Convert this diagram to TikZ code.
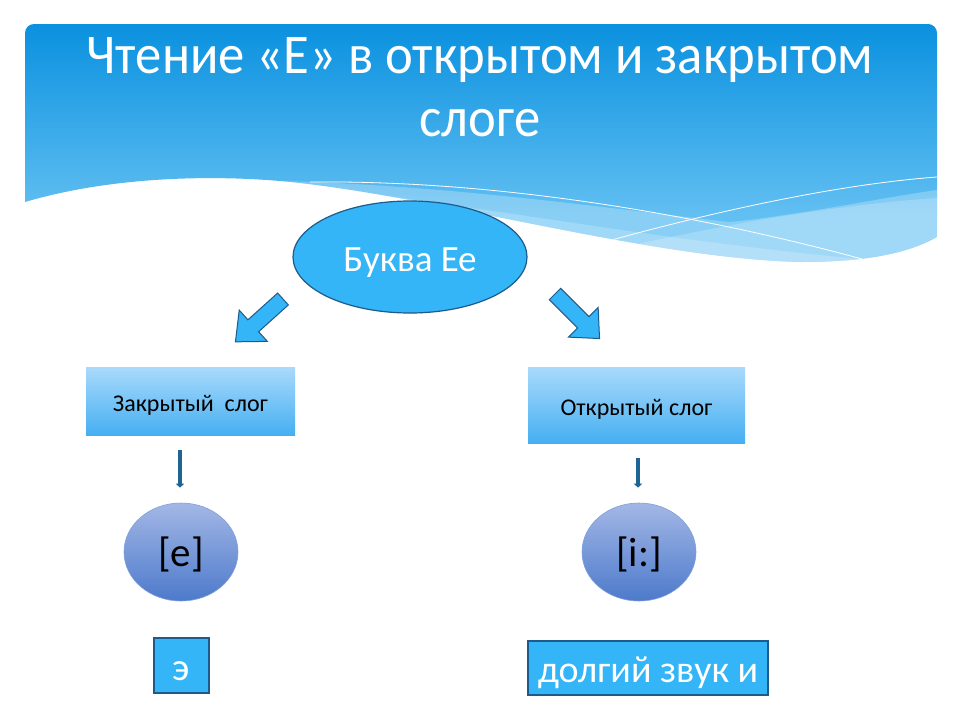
\documentclass[tikz,border=0pt]{standalone}
\usepackage{fontspec}
\setmainfont{Carlito}
\usetikzlibrary{arrows.meta,shapes.geometric}
\definecolor{hdrTop}{HTML}{0A91DF}
\definecolor{hdrBot}{HTML}{62BFF2}
\definecolor{ellFill}{HTML}{33B5F7}
\definecolor{darkEdge}{HTML}{1E5A8A}
\definecolor{rectTop}{HTML}{A9DAFB}
\definecolor{rectBot}{HTML}{46AFF2}
\definecolor{circTop}{HTML}{A3B7E6}
\definecolor{circBot}{HTML}{4D7ACB}
\definecolor{circEdge}{HTML}{7F9FD8}
\definecolor{smallArr}{HTML}{1F6594}
\newcommand{\lowtext}[2]{\smash{\raisebox{-#1}{#2}}}
\tikzset{
  titletext/.style={text=white, font=\fontsize{56}{63}\selectfont, anchor=base, inner sep=0pt},
  blockarrow/.style={fill=ellFill, draw=darkEdge, line width=1pt, line join=miter},
  syllbox/.style={rectangle, minimum height=68pt, top color=rectTop, bottom color=rectBot, draw=none, font=\fontsize{24}{28}\selectfont, text=black, inner sep=0pt},
  soundcirc/.style={ellipse, minimum width=114pt, minimum height=98pt, top color=circTop, bottom color=circBot, draw=circEdge, line width=0.6pt, font=\fontsize{41}{46}\selectfont, text=black, inner sep=0pt},
  valbox/.style={rectangle, fill=ellFill, draw=darkEdge, line width=1.2pt, text=white, minimum height=55pt, inner sep=0pt},
  downarrow/.style={draw=smallArr, line width=3.5pt, -{Triangle[width=8pt,length=4pt]}, shorten <=15pt, shorten >=15pt}
}
\begin{document}
\begin{tikzpicture}[x=1pt,y=-1pt]
\useasboundingbox (0,0) rectangle (960,720);
\fill[white] (0,0) rectangle (960,720);
% header
\begin{scope}
  \clip[rounded corners=9pt] (25,24) rectangle (937,300);
  \clip (25,202) -- (25,24) -- (937,24) -- (937,237)
     .. controls (905,255) and (860,262) .. (800,262)
     .. controls (650,258) and (450,200) .. (300,183)
     .. controls (230,175) and (120,174) .. (25,202) -- cycle;
  \shade[top color=hdrTop, bottom color=hdrBot] (25,24) rectangle (937,215);
  \fill[hdrBot] (25,214) rectangle (937,300);
  % lighter band overlays
  \fill[white, opacity=0.25] (280,181) .. controls (450,185) and (620,210) .. (730,222)
     .. controls (800,215) and (880,198) .. (937,190) -- (937,300) -- (280,300) -- cycle;
  \fill[white, opacity=0.2] (300,186) .. controls (450,200) and (650,240) .. (862,259) -- (862,300) -- (300,300) -- cycle;
  \fill[white, opacity=0.2] (560,262) .. controls (700,228) and (830,205) .. (937,198) -- (937,300) -- (560,300) -- cycle;
  \draw[white, line width=0.8pt] (310,182) .. controls (500,180) and (700,215) .. (862,259);
  \draw[white, line width=0.8pt] (590,246) .. controls (700,215) and (830,185) .. (937,177);
\end{scope}
% title
\node[titletext] (title1) at (480,73) {\scalebox{0.94}[1]{Чтение «Е» в открытом и закрытом}};
\node[titletext] (title2) at (480,136) {\scalebox{0.94}[1]{слоге}};
% top ellipse
\node[ellipse, fill=ellFill, draw=darkEdge, line width=1.2pt, minimum width=234pt, minimum height=112pt,
  text=white, font=\fontsize{37}{42}\selectfont, inner sep=0pt] (letter) at (410,257) {\lowtext{14pt}{Буква Ее}};
% block arrows
\begin{scope}[shift={(283,299)}, rotate=222]
  \path[blockarrow] (0,-8) -- (40,-8) -- (40,-21) -- (64,0) -- (40,21) -- (40,8) -- (0,8) -- cycle;
\end{scope}
\begin{scope}[shift={(555,294)}, rotate=-45]
  \path[blockarrow] (0,-8) -- (40,-8) -- (40,-21) -- (63,0) -- (40,21) -- (40,8) -- (0,8) -- cycle;
\end{scope}
% syllable boxes
\node[syllbox, minimum width=209pt] (closed) at (190.5,401) {\lowtext{10pt}{Закрытый\ \ слог}};
\node[syllbox, minimum width=217pt, minimum height=76pt] (open) at (636.5,405) {\lowtext{10pt}{Открытый слог}};
% sound circles
\node[soundcirc] (e) at (181,552) {\lowtext{14pt}{[e]}};
\node[soundcirc] (ii) at (639,552) {\lowtext{14pt}{[i:]}};
% down arrows
\draw[downarrow] (closed.south -| 180,0) -- (e.north -| 180,0);
\draw[downarrow] (open.south -| 638,0) -- (ii.north -| 638,0);
% value boxes
\node[valbox, minimum width=55pt, font=\fontsize{39}{44}\selectfont] (ruE) at (181.5,665.5) {\lowtext{15pt}{э}};
\node[valbox, minimum width=240pt, minimum height=54pt, font=\fontsize{38}{44}\selectfont] (long) at (648,668) {\lowtext{14pt}{долгий звук и}};
\end{tikzpicture}
\end{document}
